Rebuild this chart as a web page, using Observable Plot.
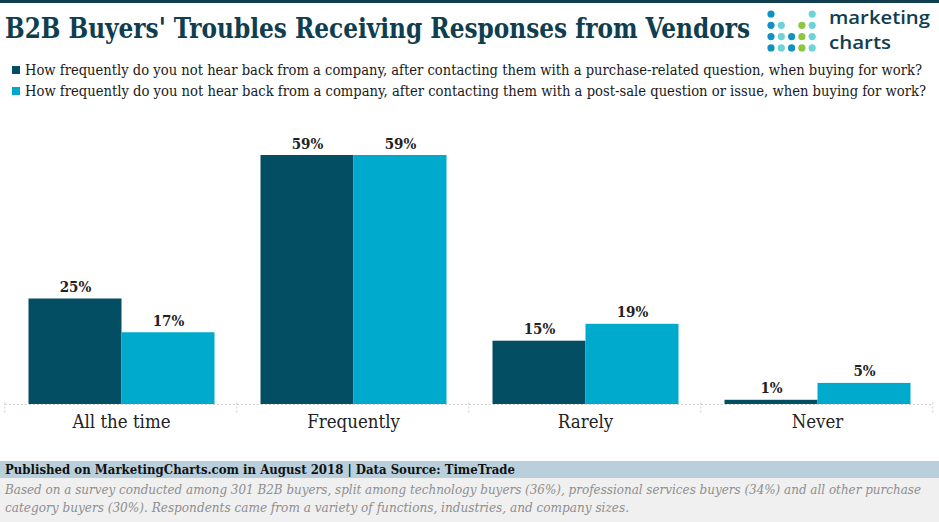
<!DOCTYPE html>
<html>
<head>
<meta charset="utf-8">
<script src="https://cdn.jsdelivr.net/npm/d3@7"></script>
<script src="https://cdn.jsdelivr.net/npm/@observablehq/plot@0.6"></script>
<style>
  html, body { margin: 0; padding: 0; background: #fff; }
  #wrap { position: relative; width: 939px; height: 522px; overflow: hidden; background: #fff; }
  #header { position: absolute; left: 0; top: 0; }
  #chart { position: absolute; left: 0; top: 105px; }
  #footer { position: absolute; left: 0; top: 460px; }
  text { font-family: "DejaVu Serif Condensed", "DejaVu Serif", serif; }
</style>
</head>
<body>
<div id="wrap">
  <svg id="header" width="939" height="105"></svg>
  <div id="chart"></div>
  <svg id="footer" width="939" height="62"></svg>
</div>
<script>
// ---------- data ----------
const titleText = "B2B Buyers' Troubles Receiving Responses from Vendors";
const categories = ["All the time", "Frequently", "Rarely", "Never"];
const seriesKeys = ["purchase", "postsale"];
const seriesLabels = [
  "How frequently do you not hear back from a company, after contacting them with a purchase-related question, when buying for work?",
  "How frequently do you not hear back from a company, after contacting them with a post-sale question or issue, when buying for work?"
];
const purchaseValues = [25, 59, 15, 1];
const postSaleValues = [17, 59, 19, 5];
const seriesColors = ["#044e64", "#00aacd"];
const sourceText = "Published on MarketingCharts.com in August 2018 | Data Source: TimeTrade";
const noteLines = [
  "Based on a survey conducted among 301 B2B buyers, split among technology buyers (36%), professional services buyers (34%) and all other purchase",
  "category buyers (30%). Respondents came from a variety of functions, industries, and company sizes."
];

const data = categories.flatMap((c, i) => [
  {cat: c, series: seriesKeys[0], value: purchaseValues[i]},
  {cat: c, series: seriesKeys[1], value: postSaleValues[i]}
]);

// ---------- header ----------
const header = d3.select("#header");
header.append("rect").attr("x", 0).attr("y", 0).attr("width", 939).attr("height", 3).attr("fill", "#123f50");
header.append("text").attr("x", 5).attr("y", 38).attr("font-size", 27).attr("font-weight", "bold")
  .attr("fill", "#0e3e50").attr("textLength", 745).attr("lengthAdjust", "spacingAndGlyphs").text(titleText);

// logo
const dotBlue = "#1192c2", dotLight = "#6dd3d9", dotGreen = "#8dc63f";
const logoDots = [
  [0,0,dotBlue],[4,0,dotLight],
  [0,1,dotBlue],[1,1,dotLight],[3,1,dotGreen],[4,1,dotLight],
  [0,2,dotBlue],[1,2,dotLight],[2,2,dotBlue],[3,2,dotGreen],[4,2,dotLight],
  [0,3,dotBlue],[1,3,dotLight],[2,3,dotBlue],[3,3,dotGreen],[4,3,dotLight]
];
const logo = header.append("g");
logo.selectAll("circle").data(logoDots).join("circle")
  .attr("cx", d => 771 + d[0] * 10.3).attr("cy", d => 14 + d[1] * 11.3).attr("r", 3.6).attr("fill", d => d[2]);
logo.append("text").attr("x", 829).attr("y", 24).attr("font-size", 18).attr("font-weight", 600)
  .style("font-family", "'Open Sans', 'DejaVu Sans', sans-serif")
  .attr("fill", "#0e3e50").attr("textLength", 101).attr("lengthAdjust", "spacingAndGlyphs").text("marketing");
logo.append("text").attr("x", 829).attr("y", 49).attr("font-size", 18).attr("font-weight", 600)
  .style("font-family", "'Open Sans', 'DejaVu Sans', sans-serif")
  .attr("fill", "#0e3e50").attr("textLength", 62).attr("lengthAdjust", "spacingAndGlyphs").text("charts");

// legend
const legendY = [75, 96];
const legendLen = [897, 901];
seriesLabels.forEach((lab, i) => {
  header.append("rect").attr("x", 12).attr("y", legendY[i] - 9).attr("width", 8).attr("height", 8).attr("fill", seriesColors[i]);
  header.append("text").attr("x", 25).attr("y", legendY[i]).attr("font-size", 14).attr("fill", "#1a1a1a")
    .attr("textLength", legendLen[i]).attr("lengthAdjust", "spacingAndGlyphs").text(lab);
});

// ---------- chart ----------
const chart = Plot.plot({
  width: 939,
  height: 355,
  marginTop: 50,
  marginBottom: 56,
  marginLeft: 4.5,
  marginRight: 6.5,
  style: {fontFamily: "'DejaVu Serif Condensed', 'DejaVu Serif', serif", fontSize: "18.5px", color: "#222", background: "transparent", overflow: "visible"},
  fx: {domain: categories, paddingInner: 0.2, paddingOuter: 0.1, label: null, axis: "bottom", tickSize: 0, tickPadding: 10},
  x: {domain: seriesKeys, padding: 0, axis: null},
  y: {domain: [0, 59], axis: null},
  color: {domain: seriesKeys, range: seriesColors},
  marks: [
    Plot.barY(data, {fx: "cat", x: "series", y: "value", fill: "series"}),
    Plot.text(data, {fx: "cat", x: "series", y: "value", text: d => d.value + "%", dy: -7, lineAnchor: "bottom",
      fontWeight: "bold", fontSize: 15, fill: "#222"})
  ]
});
document.getElementById("chart").appendChild(chart);

// baseline and group separators from the library's scales
const fxS = chart.scale("fx");
const yS = chart.scale("y");
const step = fxS.apply(categories[1]) - fxS.apply(categories[0]);
const boundaries = d3.range(categories.length + 1).map(i =>
  (i < categories.length ? fxS.apply(categories[i]) : fxS.apply(categories[categories.length - 1]) + step) - step * fxS.paddingInner / 2);
const y0 = yS.apply(0) + 0.5;
const g = d3.select(chart).append("g");
g.append("line").attr("x1", boundaries[0]).attr("x2", boundaries[boundaries.length - 1])
  .attr("y1", y0).attr("y2", y0).attr("stroke", "#cfcfcf").attr("stroke-dasharray", "2,2");
g.selectAll(".tk").data(boundaries).join("line")
  .attr("x1", d => d).attr("x2", d => d).attr("y1", y0 - 2).attr("y2", y0 + 8)
  .attr("stroke", "#cfcfcf").attr("stroke-dasharray", "2,2");

// ---------- footer ----------
const footer = d3.select("#footer");
footer.append("rect").attr("x", 0).attr("y", 1).attr("width", 939).attr("height", 17).attr("fill", "#b9d0dc");
footer.append("text").attr("x", 5).attr("y", 14).attr("font-size", 13.5).attr("font-weight", "bold").attr("fill", "#111")
  .attr("textLength", 510).attr("lengthAdjust", "spacingAndGlyphs").text(sourceText);
footer.append("rect").attr("x", 0).attr("y", 18).attr("width", 939).attr("height", 44).attr("fill", "#f0f0f0");
const noteY = [34, 52], noteLen = [916, 624];
noteLines.forEach((t, i) => {
  footer.append("text").attr("x", 5).attr("y", noteY[i]).attr("font-size", 13).attr("font-style", "italic")
    .attr("fill", "#8e8e8e").attr("textLength", noteLen[i]).attr("lengthAdjust", "spacingAndGlyphs").text(t);
});
</script>
</body>
</html>
